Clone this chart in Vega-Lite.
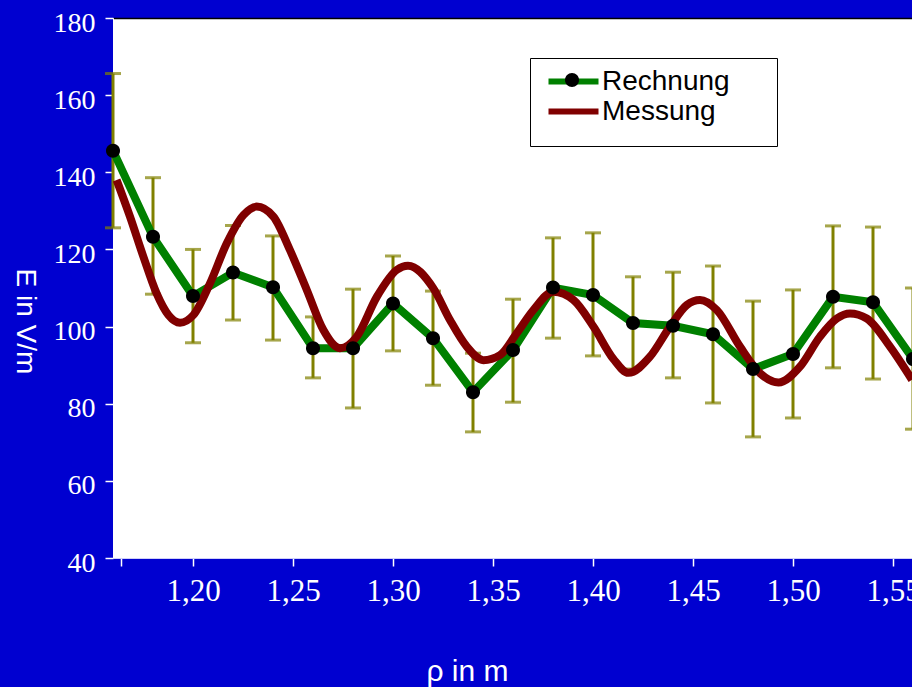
{
  "$schema": "https://vega.github.io/schema/vega-lite/v6.json",
  "width": 799,
  "height": 540,
  "autosize": {"type": "none"},
  "padding": {"left": 113, "top": 18, "right": 0, "bottom": 129},
  "background": "#0000d0",
  "view": {"fill": "white", "stroke": null},
  "config": {"font": "Liberation Sans"},
  "datasets": {
    "calc": [
      {"x": 1.16, "E": 145.6, "lo": 125.6, "hi": 165.6, "series": "Rechnung"},
      {"x": 1.18, "E": 123.3, "lo": 108.4, "hi": 138.6, "series": "Rechnung"},
      {"x": 1.20, "E": 107.9, "lo": 95.8, "hi": 120.0, "series": "Rechnung"},
      {"x": 1.22, "E": 114.0, "lo": 101.7, "hi": 126.2, "series": "Rechnung"},
      {"x": 1.24, "E": 110.2, "lo": 96.5, "hi": 123.5, "series": "Rechnung"},
      {"x": 1.26, "E": 94.4, "lo": 86.7, "hi": 102.5, "series": "Rechnung"},
      {"x": 1.28, "E": 94.4, "lo": 78.9, "hi": 109.7, "series": "Rechnung"},
      {"x": 1.30, "E": 106.0, "lo": 93.7, "hi": 118.3, "series": "Rechnung"},
      {"x": 1.32, "E": 97.0, "lo": 84.8, "hi": 109.2, "series": "Rechnung"},
      {"x": 1.34, "E": 83.0, "lo": 72.7, "hi": 93.1, "series": "Rechnung"},
      {"x": 1.36, "E": 93.9, "lo": 80.4, "hi": 107.1, "series": "Rechnung"},
      {"x": 1.38, "E": 110.1, "lo": 97.0, "hi": 123.0, "series": "Rechnung"},
      {"x": 1.40, "E": 108.2, "lo": 92.4, "hi": 124.3, "series": "Rechnung"},
      {"x": 1.42, "E": 100.9, "lo": 89.0, "hi": 112.9, "series": "Rechnung"},
      {"x": 1.44, "E": 100.2, "lo": 86.7, "hi": 114.1, "series": "Rechnung"},
      {"x": 1.46, "E": 98.0, "lo": 80.2, "hi": 115.7, "series": "Rechnung"},
      {"x": 1.48, "E": 89.0, "lo": 71.4, "hi": 106.6, "series": "Rechnung"},
      {"x": 1.50, "E": 92.9, "lo": 76.3, "hi": 109.5, "series": "Rechnung"},
      {"x": 1.52, "E": 107.7, "lo": 89.3, "hi": 126.1, "series": "Rechnung"},
      {"x": 1.54, "E": 106.3, "lo": 86.4, "hi": 125.8, "series": "Rechnung"},
      {"x": 1.56, "E": 91.6, "lo": 73.4, "hi": 110.0, "series": "Rechnung"}
    ],
    "meas": [
      {"x": 1.1618, "E": 138.0, "series": "Messung"},
      {"x": 1.1685, "E": 128.5, "series": "Messung"},
      {"x": 1.1752, "E": 118.1, "series": "Messung"},
      {"x": 1.1818, "E": 108.6, "series": "Messung"},
      {"x": 1.1877, "E": 103.0, "series": "Messung"},
      {"x": 1.1935, "E": 101.0, "series": "Messung"},
      {"x": 1.2002, "E": 103.0, "series": "Messung"},
      {"x": 1.2085, "E": 111.2, "series": "Messung"},
      {"x": 1.2169, "E": 121.6, "series": "Messung"},
      {"x": 1.2252, "E": 128.9, "series": "Messung"},
      {"x": 1.2318, "E": 131.1, "series": "Messung"},
      {"x": 1.2402, "E": 128.5, "series": "Messung"},
      {"x": 1.2485, "E": 119.8, "series": "Messung"},
      {"x": 1.2569, "E": 109.5, "series": "Messung"},
      {"x": 1.2652, "E": 99.1, "series": "Messung"},
      {"x": 1.2735, "E": 94.4, "series": "Messung"},
      {"x": 1.2819, "E": 97.4, "series": "Messung"},
      {"x": 1.2919, "E": 107.7, "series": "Messung"},
      {"x": 1.3019, "E": 114.7, "series": "Messung"},
      {"x": 1.3075, "E": 115.8, "series": "Messung"},
      {"x": 1.3202, "E": 109.9, "series": "Messung"},
      {"x": 1.3285, "E": 101.7, "series": "Messung"},
      {"x": 1.3369, "E": 94.8, "series": "Messung"},
      {"x": 1.3452, "E": 91.3, "series": "Messung"},
      {"x": 1.3535, "E": 92.6, "series": "Messung"},
      {"x": 1.3619, "E": 98.3, "series": "Messung"},
      {"x": 1.3702, "E": 104.3, "series": "Messung"},
      {"x": 1.3802, "E": 109.0, "series": "Messung"},
      {"x": 1.3902, "E": 106.9, "series": "Messung"},
      {"x": 1.4002, "E": 100.0, "series": "Messung"},
      {"x": 1.4102, "E": 91.6, "series": "Messung"},
      {"x": 1.4177, "E": 88.0, "series": "Messung"},
      {"x": 1.4285, "E": 92.2, "series": "Messung"},
      {"x": 1.4385, "E": 100.0, "series": "Messung"},
      {"x": 1.4469, "E": 105.6, "series": "Messung"},
      {"x": 1.4535, "E": 106.9, "series": "Messung"},
      {"x": 1.4619, "E": 104.3, "series": "Messung"},
      {"x": 1.4735, "E": 94.8, "series": "Messung"},
      {"x": 1.4835, "E": 87.9, "series": "Messung"},
      {"x": 1.4927, "E": 85.5, "series": "Messung"},
      {"x": 1.5035, "E": 89.6, "series": "Messung"},
      {"x": 1.5135, "E": 97.4, "series": "Messung"},
      {"x": 1.5219, "E": 102.1, "series": "Messung"},
      {"x": 1.5285, "E": 103.4, "series": "Messung"},
      {"x": 1.5369, "E": 102.1, "series": "Messung"},
      {"x": 1.5485, "E": 94.8, "series": "Messung"},
      {"x": 1.5595, "E": 86.2, "series": "Messung"}
    ]
  },
  "layer": [
    {
      "data": {"name": "calc"},
      "mark": {"type": "errorbar", "ticks": {"size": 16, "thickness": 3, "color": "#808000"}, "rule": {"strokeWidth": 3, "color": "#808000"}},
      "encoding": {
        "x": {"field": "x", "type": "quantitative", "scale": {"domain": [1.16, 1.5595], "nice": false, "zero": false},
          "axis": {"values": [1.164, 1.2, 1.25, 1.3, 1.35, 1.4, 1.45, 1.5, 1.55],
            "labelExpr": "datum.value < 1.19 ? '' : replace(format(datum.value, '.2f'), '.', ',')",
            "labelFont": "Liberation Serif", "labelFontSize": 31, "labelColor": "white", "labelPadding": 10,
            "labelFlush": false, "labelOverlap": false,
            "tickColor": "white", "tickSize": 8, "tickWidth": 1.5, "domainColor": "#d0d0f8", "grid": false,
            "title": "ρ in m", "titleFont": "Liberation Sans", "titleFontSize": 30, "titleFontWeight": "normal", "titleColor": "white",
            "titleX": 354, "titleY": 122, "titleAlign": "center", "titleBaseline": "alphabetic"}},
        "y": {"field": "lo", "type": "quantitative", "title": "E in V/m", "scale": {"domain": [40, 180], "nice": false, "zero": false},
          "axis": {"values": [40, 60, 80, 100, 120, 140, 160, 180],
            "labelFont": "Liberation Serif", "labelFontSize": 28, "labelColor": "white", "labelPadding": 10, "labelOffset": 5,
            "tickColor": "white", "tickSize": 8, "tickWidth": 1.5, "domainColor": "white", "grid": false,
            "titleFont": "Liberation Sans", "titleFontSize": 28, "titleFontWeight": "normal", "titleColor": "white",
            "titleAngle": 90, "titleX": -89, "titleY": 303, "titleAlign": "center", "titleBaseline": "middle"}},
        "y2": {"field": "hi"}
      }
    },
    {
      "data": {"name": "calc"},
      "mark": {"type": "line", "strokeWidth": 8},
      "encoding": {
        "x": {"field": "x", "type": "quantitative", "axis": null},
        "y": {"field": "E", "type": "quantitative", "title": "E in V/m"},
        "color": {"field": "series", "type": "nominal", "scale": {"domain": ["Rechnung", "Messung"], "range": ["#008000", "#800000"]},
          "legend": {"orient": "none", "legendX": 417, "legendY": 40, "title": "\u200b", "titleOrient": "bottom", "titleFontSize": 10, "titlePadding": 2,
            "padding": 8,
            "fillColor": "white", "strokeColor": "black",
            "symbolType": "M-2,0H2", "symbolSize": 625, "symbolStrokeWidth": 6, "symbolOffset": 20, "labelOffset": 13,
            "labelFont": "Liberation Sans", "labelFontSize": 28, "labelColor": "black", "rowPadding": 0, "labelLimit": 400,
            "labelExpr": "datum.label + '\u00a0\u00a0\u00a0\u00a0\u00a0\u200b'"}}
      }
    },
    {
      "data": {"name": "meas"},
      "mark": {"type": "line", "strokeWidth": 8, "interpolate": "monotone"},
      "encoding": {
        "x": {"field": "x", "type": "quantitative", "axis": null},
        "y": {"field": "E", "type": "quantitative", "title": "E in V/m"},
        "color": {"field": "series", "type": "nominal"}
      }
    },
    {
      "data": {"name": "calc"},
      "mark": {"type": "point", "filled": true, "color": "black", "opacity": 1, "size": 625, "strokeWidth": 0},
      "encoding": {
        "x": {"field": "x", "type": "quantitative",
          "axis": {"orient": "top", "domainColor": "black", "domainWidth": 1.5, "ticks": false, "labels": false, "title": null, "grid": false}},
        "y": {"field": "E", "type": "quantitative", "title": "E in V/m"},
        "shape": {"field": "series", "type": "nominal",
          "scale": {"domain": ["Rechnung"], "range": ["M-0.56,0A0.56,0.56 0 1,1 0.56,0A0.56,0.56 0 1,1 -0.56,0Z"]},
          "legend": {"orient": "none", "legendX": 417, "legendY": 40, "title": null, "padding": 8,
            "fillColor": "transparent", "strokeColor": "transparent",
            "symbolSize": 625, "symbolFillColor": "black", "symbolStrokeColor": "black", "symbolStrokeWidth": 0,
            "symbolOffset": 20, "labelOffset": 13, "labelOpacity": 0, "labelExpr": "''",
            "labelFont": "Liberation Sans", "labelFontSize": 28, "labelColor": "black", "rowPadding": 0, "labelLimit": 400}}
      }
    }
  ],
  "resolve": {"axis": {"x": "independent"}}
}
